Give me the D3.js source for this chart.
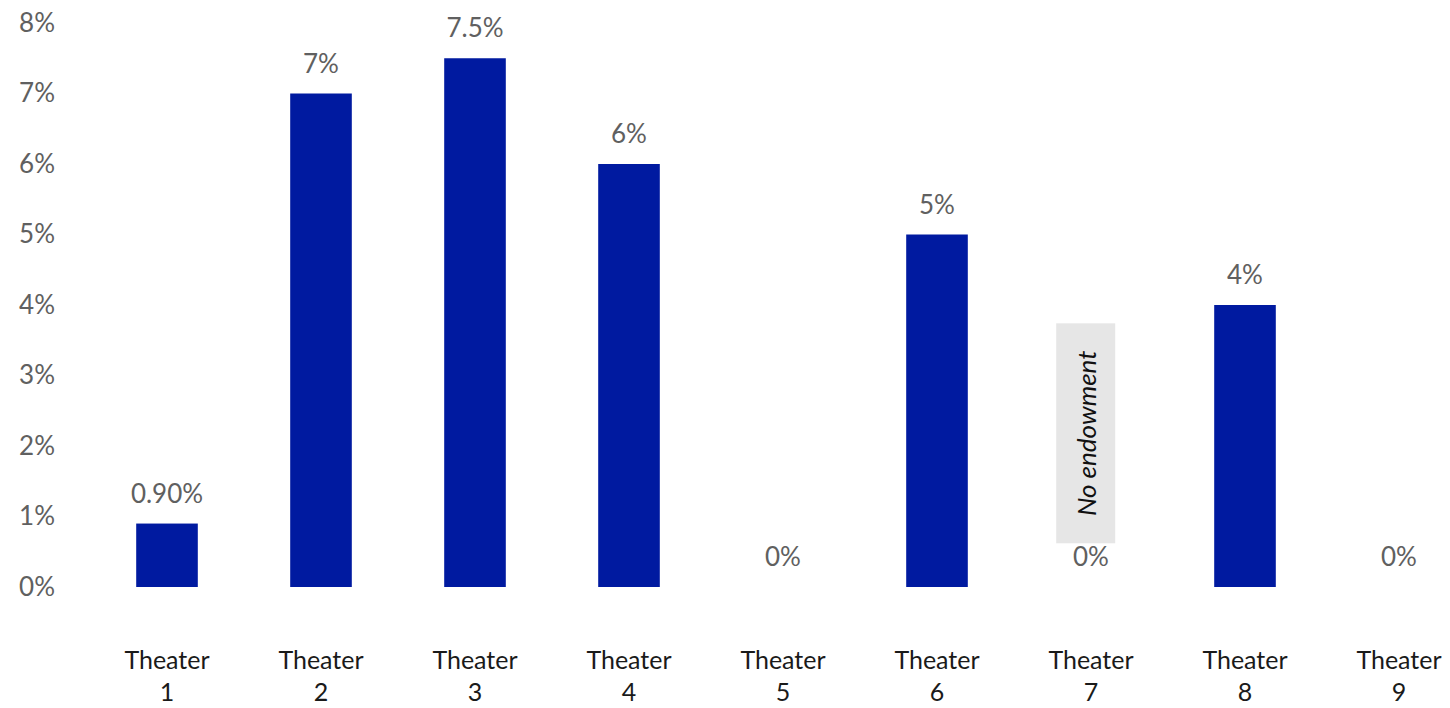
<!DOCTYPE html>
<html>
<head>
<meta charset="utf-8">
<script src="https://cdn.jsdelivr.net/npm/d3@7"></script>
<style>
  html, body { margin: 0; padding: 0; background: #fff; }
  svg { display: block; }
</style>
</head>
<body>
<svg id="chart" width="1450" height="708"></svg>
<script>
// Endowment draw rate by theater
const categories = ["Theater 1", "Theater 2", "Theater 3", "Theater 4", "Theater 5",
                    "Theater 6", "Theater 7", "Theater 8", "Theater 9"];
const values = [0.9, 7, 7.5, 6, 0, 5, 0, 4, 0];
const valueLabels = ["0.90%", "7%", "7.5%", "6%", "0%", "5%", "0%", "4%", "0%"];
const yTicks = [0, 1, 2, 3, 4, 5, 6, 7, 8];
const noteCategory = "Theater 7";
const noteText = "No endowment";
const noteRange = [0.62, 3.74];

const svg = d3.select("#chart");
const font = "'Lato', 'Open Sans', sans-serif";

const x = d3.scaleBand()
  .domain(categories)
  .range([90, 1476])
  .paddingInner(0.6)
  .paddingOuter(0.3);

const y = d3.scaleLinear()
  .domain([0, 8])
  .range([587, 23]);

// Y axis labels (no line, no ticks)
const yAxis = d3.axisLeft(y)
  .tickValues(yTicks)
  .tickFormat(d => d + "%")
  .tickSize(0)
  .tickPadding(0);

const yg = svg.append("g")
  .attr("transform", "translate(55,0)")
  .call(yAxis);
yg.select(".domain").remove();
yg.selectAll("text")
  .attr("font-family", font)
  .attr("font-size", 26)
  .attr("fill", "#606060");

// Bars
svg.append("g")
  .selectAll("rect")
  .data(values)
  .join("rect")
  .attr("x", (d, i) => x(categories[i]))
  .attr("width", x.bandwidth())
  .attr("y", d => y(d))
  .attr("height", d => y(0) - y(d))
  .attr("fill", "#001aa0");

// Annotation box for Theater 7
const noteX = x(noteCategory) - 4;
svg.append("rect")
  .attr("x", noteX)
  .attr("width", 59)
  .attr("y", y(noteRange[1]))
  .attr("height", y(noteRange[0]) - y(noteRange[1]))
  .attr("fill", "#e6e6e6");

svg.append("text")
  .attr("transform", `translate(${noteX + 29.5 + 10},${(y(noteRange[0]) + y(noteRange[1])) / 2}) rotate(-90)`)
  .attr("text-anchor", "middle")
  .attr("font-family", font)
  .attr("font-style", "italic")
  .attr("font-size", 26)
  .attr("fill", "#111")
  .text(noteText);

// Value labels
svg.append("g")
  .selectAll("text")
  .data(values)
  .join("text")
  .attr("x", (d, i) => x(categories[i]) + x.bandwidth() / 2)
  .attr("y", d => y(d) - 21)
  .attr("text-anchor", "middle")
  .attr("font-family", font)
  .attr("font-size", 26)
  .attr("fill", "#606060")
  .text((d, i) => valueLabels[i]);

// Category labels (two lines)
const catG = svg.append("g")
  .selectAll("text")
  .data(categories)
  .join("text")
  .attr("x", d => x(d) + x.bandwidth() / 2)
  .attr("y", 669)
  .attr("text-anchor", "middle")
  .attr("font-family", font)
  .attr("font-size", 25)
  .attr("fill", "#1a1a1a");

catG.each(function(d) {
  const parts = d.split(" ");
  const t = d3.select(this);
  t.append("tspan").attr("x", t.attr("x")).attr("dy", 0).text(parts[0]);
  t.append("tspan").attr("x", t.attr("x")).attr("dy", 32).text(parts[1]);
});
</script>
</body>
</html>
